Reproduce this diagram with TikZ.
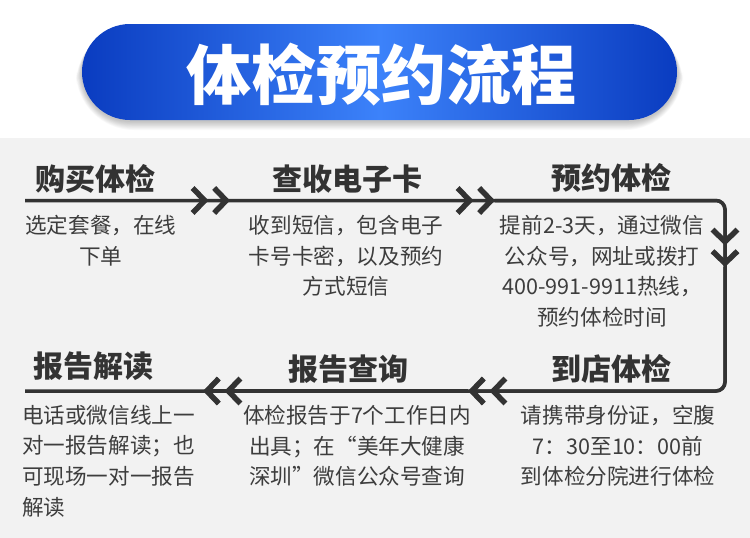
\documentclass[tikz,border=0pt]{standalone}
\usepackage{fontspec}
\newfontfamily\cjk{Noto Sans CJK SC}
\usetikzlibrary{arrows.meta, positioning}

\definecolor{panel}{HTML}{F2F2F2}
\definecolor{pilldark}{HTML}{0A3CC0}
\definecolor{pilllight}{HTML}{3C82FA}
\definecolor{ink}{HTML}{333333}

\begin{document}
\begin{tikzpicture}[
    x=1pt, y=-1pt,
    head/.style={font=\cjk\bfseries\fontsize{30}{34}\selectfont, text=ink, inner sep=0},
    desc/.style={font=\cjk\fontsize{21.6}{30.6}\selectfont, text=ink!95, inner sep=0,
                 align=center, anchor=north},
    flowline/.style={line width=3.5pt, draw=ink, rounded corners=9},
    chev/.style={line width=3.5pt, draw=ink, rounded corners=9,
                 -{Straight Barb[length=12pt,width=25pt,line width=5.5pt,sep=3pt]%
                   Straight Barb[length=12pt,width=25pt,line width=5.5pt]}}
]

% Background and title bar
\fill[white] (0,0) rectangle (750,538);
\fill[panel] (0,138) rectangle (750,538);
\foreach \i in {1,...,10}
  \fill[black, opacity=0.025, rounded corners=48+\i]
    (82-\i*0.6,26) rectangle (677+\i*0.6,121+\i*0.9);
\shade[rounded corners=48, left color=pilldark, right color=pilldark,
       middle color=pilllight] (82,24) rectangle (677,120);
\node[font=\cjk\bfseries\fontsize{65}{70}\selectfont, text=white,
      inner sep=0] (title) at (381,75) {体检预约流程};

% Step headings
\node[head] (buy)     at (95,179)  {购买体检};
\node[head] (card)    at (347,179) {查收电子卡};
\node[head] (book)    at (611,178) {预约体检};
\node[head] (explain) at (94,366)  {报告解读};
\node[head] (query)   at (348,369) {报告查询};
\node[head] (visit)   at (611,369) {到店体检};

% Step texts
\node[desc] (buytxt)  at (101,215) {选定套餐，在线\\下单};
\node[desc] (cardtxt) at (346,215) {收到短信，包含电子\\卡号卡密，以及预约\\方式短信};
\node[desc] (booktxt) at (602,215) {提前2-3天，通过微信\\公众号，网址或拨打\\400-991-9911热线，\\预约体检时间};
\node[desc, align=left, anchor=north west] (explaintxt) at (22,405)
      {电话或微信线上一\\对一报告解读；也\\可现场一对一报告\\解读};
\node[desc] (querytxt) at (357,405) {体检报告于7个工作日内\\出具；在“美年大健康\\深圳”微信公众号查询};
\node[desc] (visittxt) at (618,405) {请携带身份证，空腹\\7：30至10：00前\\到体检分院进行体检};

% Flow line
\coordinate (start) at (25,200.5);
\coordinate (a1)    at (230,200.5);
\coordinate (a2)    at (495,200.5);
\coordinate (tr)    at (725,200.5);
\coordinate (a3)    at (725,267);
\coordinate (br)    at (725,391);
\coordinate (a4)    at (468,391);
\coordinate (a5)    at (203,391);
\coordinate (end)   at (25,391);

\draw[flowline] (start) -- (tr) -- (br) -- (end);
\draw[chev] (start) -- (a1);
\draw[chev] (a1) -- (a2);
\draw[chev] (a2) -- (tr) -- (a3);
\draw[chev] (a3) -- (br) -- (a4);
\draw[chev] (a4) -- (a5);

\end{tikzpicture}
\end{document}
